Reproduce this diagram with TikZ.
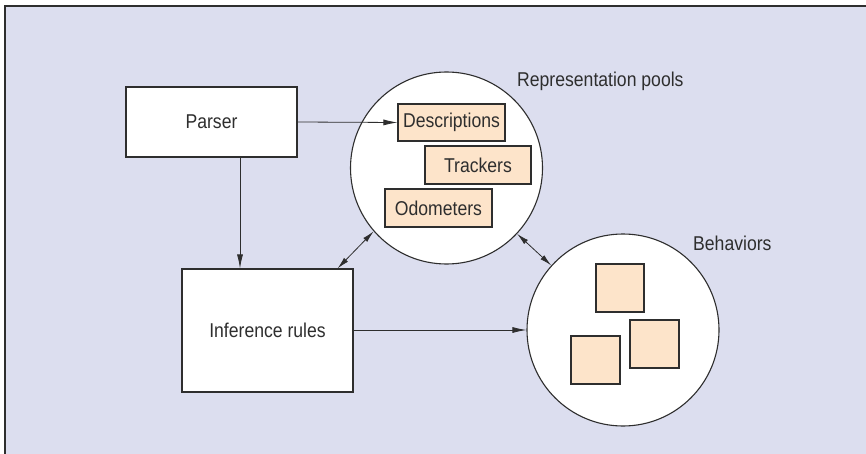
\documentclass[tikz,border=0pt]{standalone}
\usepackage{fontspec}
\setmainfont{Liberation Sans}[FakeStretch=0.88]
\usetikzlibrary{arrows.meta}
\definecolor{bgcol}{HTML}{DCDEEF}
\definecolor{peach}{HTML}{FDE4CA}
\definecolor{linecol}{HTML}{2E2E2E}
\tikzset{
  lbl/.style={font=\fontsize{20}{24}\selectfont, text=linecol},
  whitebox/.style={draw=linecol, line width=1.1pt, fill=white, inner sep=0pt, lbl},
  peachbox/.style={draw=linecol, line width=1.1pt, fill=peach, inner sep=0pt, lbl},
  pool/.style={circle, draw=linecol, line width=1.1pt, fill=white, inner sep=0pt, minimum size=192pt},
  conn/.style={draw=linecol, line width=0.8pt},
  tip/.style={-{Latex[length=14pt,width=6pt]}},
  dtip/.style={{Latex[length=12pt,width=5.5pt]}-{Latex[length=12pt,width=5.5pt]}},
}
\begin{document}
\begin{tikzpicture}[x=1pt,y=-1pt]
\useasboundingbox (0,0) rectangle (866,454);
\fill[white] (0,0) rectangle (866,454);
\fill[bgcol] (5,6) rectangle (866,454);
\draw[linecol, line width=1.5pt] (5,454) -- (5,6) -- (866,6);

% circles
\node[pool] (rep) at (446.5,168) {};
\node[pool] (beh) at (623,330) {};

% boxes
\node[whitebox, minimum width=171pt, minimum height=70pt] (parser) at (211.5,122) {Parser};
\node[whitebox, minimum width=171pt, minimum height=123pt] (inf) at (267.5,330.5) {Inference rules};

\node[peachbox, minimum width=107pt, minimum height=37pt] (desc) at (451.5,122.5) {Descriptions};
\node[peachbox, minimum width=106pt, minimum height=38pt] (track) at (478,165) {Trackers};
\node[peachbox, minimum width=107pt, minimum height=38pt] (odo) at (438.5,208) {Odometers};

\node[peachbox, minimum width=48pt, minimum height=48pt] (sq1) at (620,288) {};
\node[peachbox, minimum width=49pt, minimum height=48pt] (sq2) at (654.5,344) {};
\node[peachbox, minimum width=49pt, minimum height=48pt] (sq3) at (595.5,360) {};

% labels
\node[lbl, anchor=base west, inner sep=0pt] (replbl) at (517,86.5) {Representation pools};
\node[lbl, anchor=base west, inner sep=0pt] (behlbl) at (693,250) {Behaviors};

% connectors
\draw[conn, tip] (parser.east) -- (desc.west);
\coordinate (pa) at ([xshift=28.5pt]parser.south);
\draw[conn, tip] (pa) -- (pa |- inf.north);
\draw[conn, tip] (inf.east |- beh.west) -- (beh.west);
\draw[conn, dtip] ([xshift=-16pt]inf.north east) -- (rep.221.8);
\draw[conn, dtip] (rep.317.3) -- (beh.138);
\end{tikzpicture}
\end{document}
